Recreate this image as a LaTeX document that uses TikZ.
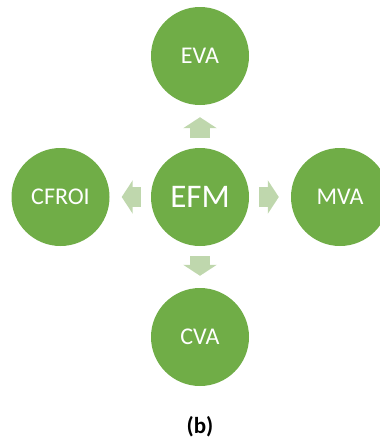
\documentclass[tikz,border=0pt]{standalone}
\usepackage{fontspec}
\setmainfont{Carlito}
\usetikzlibrary{arrows.meta}
\definecolor{efmgreen}{HTML}{70AD47}
\definecolor{efmlight}{HTML}{BFD7AD}

\begin{document}
\begin{tikzpicture}[x = 1pt, y = -1pt, metric/.style = {circle, fill = efmgreen, text = white, minimum size = 98pt, inner sep = 0pt, font = \fontsize{24}{24}\selectfont}, flow/.style = {draw = efmlight, line width = 20pt, -{Triangle[width = 33pt, length = 11pt]}, shorten < = 10pt, shorten > = 12pt}]

  \useasboundingbox (0, 0) rectangle (380, 439);

  \node [metric, font = \fontsize{33}{33}\selectfont] (efm) at (200, 197) {EFM};

  \node [metric] (eva) at (200, 56) {EVA};
  \node [metric] (cfroi) at (60.5, 197) {CFROI};
  \node [metric] (mva) at (340, 197) {MVA};
  \node [metric] (cva) at (200, 337) {CVA};

  \draw [flow] (efm) -- (eva);
  \draw [flow] (efm) -- (cfroi);
  \draw [flow] (efm) -- (mva);
  \draw [flow] (efm) -- (cva);

  \node [font = \bfseries\fontsize{23}{23}\selectfont] (caption) at (200, 427) {(b)};

\end{tikzpicture}
\end{document}
